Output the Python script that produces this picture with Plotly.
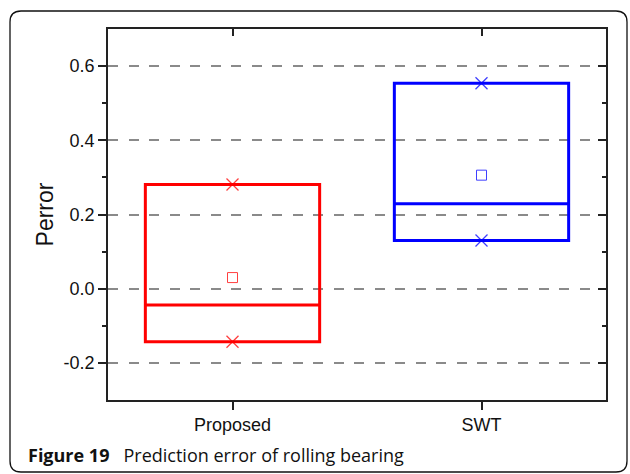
import plotly.graph_objects as go

# Box statistics for each method
categories = ["Proposed", "SWT"]
q1_vals = [-0.143, 0.130]
median_vals = [-0.044, 0.229]
q3_vals = [0.281, 0.554]
mean_vals = [0.030, 0.306]
min_vals = [-0.143, 0.130]
max_vals = [0.281, 0.554]
colors = ["#ff0000", "#0000ff"]

y_tick_vals = [-0.2, 0.0, 0.2, 0.4, 0.6]
y_tick_text = ["-0.2", "0.0", "0.2", "0.4", "0.6"]
y_minor_vals = [-0.1, 0.1, 0.3, 0.5]

W, H = 630, 474
L, R, T, B = 108, 24, 29, 74
pw, ph = W - L - R, H - T - B

AX = "#222222"
SANS = "Liberation Sans, Arial, sans-serif"
TICK_FONT = dict(family=SANS, size=18, color="#111111")

fig = go.Figure()

for i, cat in enumerate(categories):
    fig.add_trace(go.Box(
        x=[cat], q1=[q1_vals[i]], median=[median_vals[i]], q3=[q3_vals[i]],
        lowerfence=[q1_vals[i]], upperfence=[q3_vals[i]],
        width=0.7, whiskerwidth=0, boxpoints=False,
        line=dict(color=colors[i], width=3),
        fillcolor="rgba(0,0,0,0)", hoverinfo="skip", showlegend=False,
    ))
    # mean marker
    fig.add_trace(go.Scatter(
        x=[cat], y=[mean_vals[i]], mode="markers", xaxis="x2", yaxis="y2",
        marker=dict(symbol="square-open", size=10, color=colors[i],
                    line=dict(width=1, color=colors[i])),
        opacity=0.75, hoverinfo="skip", showlegend=False,
    ))
    # min / max markers
    fig.add_trace(go.Scatter(
        x=[cat, cat], y=[min_vals[i], max_vals[i]], mode="markers",
        xaxis="x2", yaxis="y2",
        marker=dict(symbol="x-thin", size=12,
                    line=dict(width=1.3, color=colors[i])),
        opacity=0.75, hoverinfo="skip", showlegend=False,
    ))

yrange = [-0.3, 0.7]
xrange = [-0.5, 1.5]

common_y = dict(range=yrange, tickmode="array", tickvals=y_tick_vals,
                zeroline=False, showline=True, linecolor=AX, linewidth=1.6,
                tickwidth=1.6, tickcolor=AX, ticklen=8)

fig.update_layout(
    width=W, height=H,
    margin=dict(l=L, r=R, t=T, b=B),
    paper_bgcolor="white", plot_bgcolor="white",
    boxmode="overlay",
    xaxis=dict(type="category", categoryorder="array", categoryarray=categories,
               range=xrange, showline=True, linecolor=AX, linewidth=1.6,
               ticks="outside", ticklen=8, tickwidth=1.6, tickcolor=AX,
               showgrid=False, zeroline=False, tickfont=TICK_FONT),
    xaxis2=dict(type="category", categoryorder="array", categoryarray=categories,
                range=xrange, overlaying="x", side="top", anchor="y2",
                showline=True, linecolor=AX, linewidth=1.6,
                ticks="inside", ticklen=7, tickwidth=1.6, tickcolor=AX,
                showticklabels=False, showgrid=False, zeroline=False),
    yaxis=dict(**common_y, ticktext=y_tick_text, ticks="outside",
               tickfont=TICK_FONT,
               showgrid=True, gridcolor="#8a8a8a", gridwidth=2,
               griddash="10px,10.5px",
               minor=dict(tickmode="array", tickvals=y_minor_vals,
                          ticks="outside", ticklen=4, tickwidth=1.6,
                          tickcolor=AX, showgrid=False),
               title=dict(text="Perror", standoff=4,
                          font=dict(family=SANS, size=23, color="#111111"))),
    yaxis2=dict(**common_y, overlaying="y", side="right", anchor="x2",
                ticks="inside", showticklabels=False, showgrid=False,
                minor=dict(tickmode="array", tickvals=y_minor_vals,
                           ticks="inside", ticklen=4, tickwidth=1.6,
                           tickcolor=AX, showgrid=False)),
)


def px_x(px):
    return (px - L) / pw


def px_y(py):
    return (H - B - py) / ph


# Rounded frame around the whole figure
x0, x1 = px_x(10), px_x(627)
y0, y1 = px_y(472), px_y(11)
rx, ry = 11 / pw, 11 / ph
path = (f"M {x0+rx},{y1} L {x1-rx},{y1} Q {x1},{y1} {x1},{y1-ry} "
        f"L {x1},{y0+ry} Q {x1},{y0} {x1-rx},{y0} "
        f"L {x0+rx},{y0} Q {x0},{y0} {x0},{y0+ry} "
        f"L {x0},{y1-ry} Q {x0},{y1} {x0+rx},{y1} Z")
fig.add_shape(type="path", path=path, xref="paper", yref="paper",
              line=dict(color="#111111", width=1.3), layer="below")

fig.add_annotation(
    text="<b>Figure 19</b>\u00a0\u00a0\u00a0Prediction error of rolling bearing",
    xref="paper", yref="paper", x=px_x(26), y=px_y(455),
    xanchor="left", yanchor="middle", showarrow=False,
    font=dict(family="Open Sans, Noto Sans, sans-serif", size=18, color="#111111"),
)

fig.write_html("out.html")
